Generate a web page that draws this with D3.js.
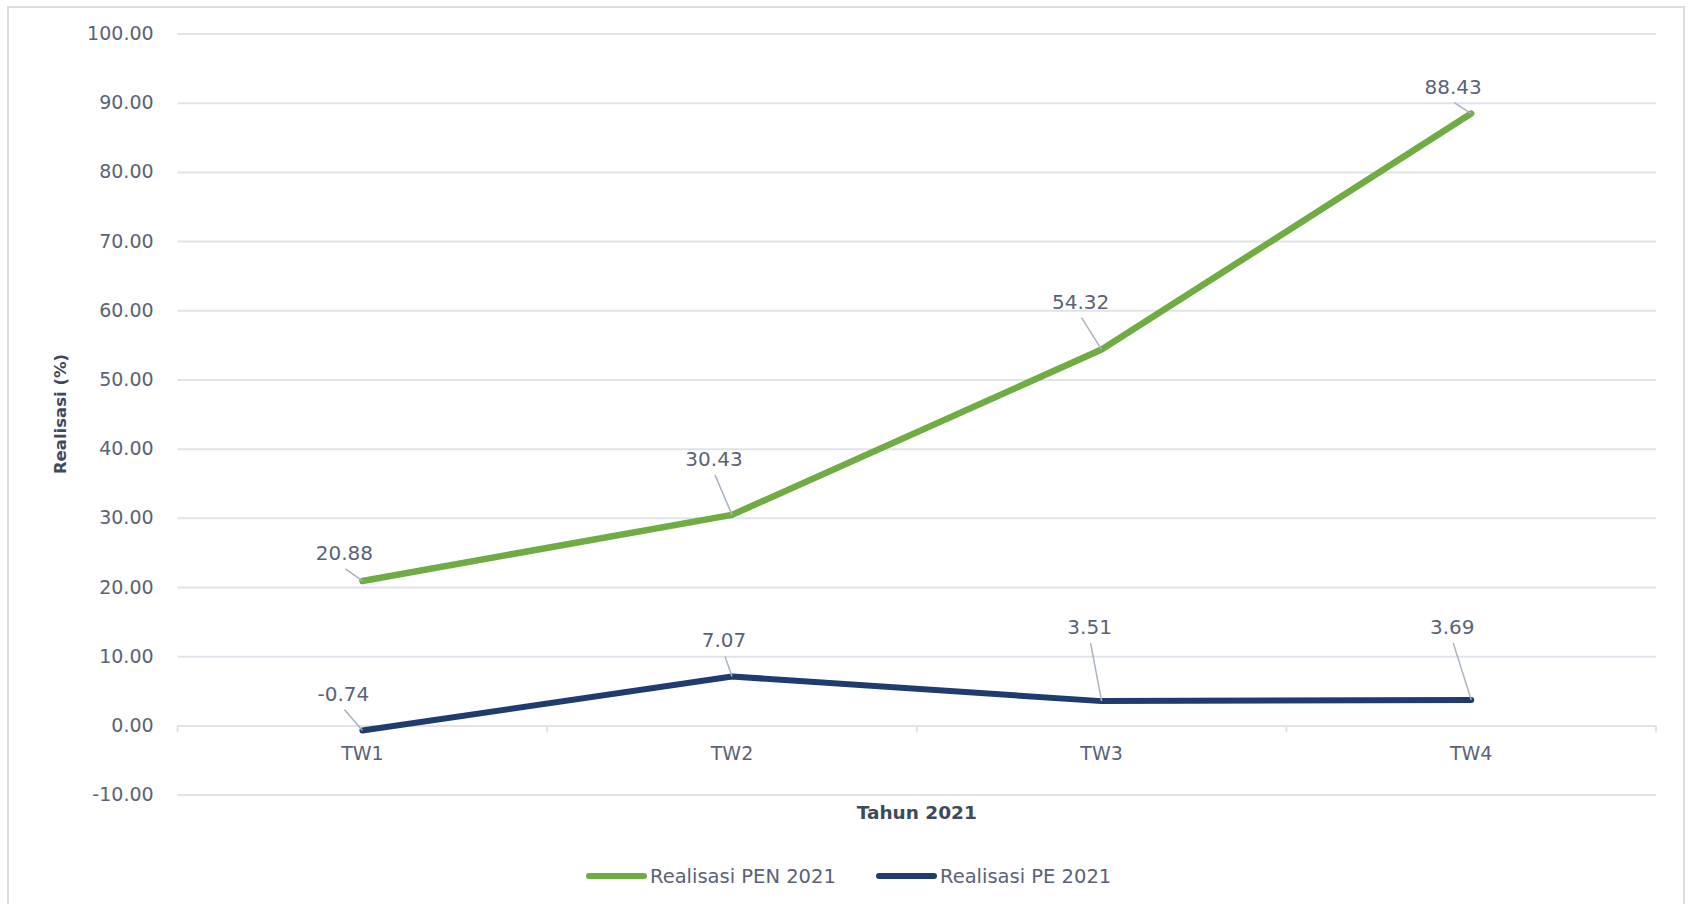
<!DOCTYPE html>
<html>
<head>
<meta charset="utf-8">
<script src="https://cdn.jsdelivr.net/npm/d3@7"></script>
<style>
  html, body { margin: 0; padding: 0; background: #ffffff; }
  svg { display: block; }
  text { font-family: "DejaVu Sans", Verdana, sans-serif; }
</style>
</head>
<body>
<svg id="chart" width="1688" height="904"></svg>
<script>
// Quarterly realisation, 2021 (percent)
const categories = ["TW1", "TW2", "TW3", "TW4"];
const penValues = [20.88, 30.43, 54.32, 88.43];
const peValues = [-0.74, 7.07, 3.51, 3.69];
const yTicks = [-10, 0, 10, 20, 30, 40, 50, 60, 70, 80, 90, 100];
const seriesNames = ["Realisasi PEN 2021", "Realisasi PE 2021"];

// Label placement relative to each point (pixels)
const penLabelOffsets = [[-18, -28], [-18, -56], [-21, -48], [-18, -27]];
const peLabelOffsets = [[-19, -37], [-8, -36], [-12, -74], [-19, -73]];

const colors = { pen: "#6fac44", pe: "#1f3b6f" };
const gridColor = "#dfe3ea";
const textColor = "#5a6376";

// two decimals, plain hyphen for negatives
const fmt = v => v.toFixed(2);

const svg = d3.select("#chart");

// outer frame of the chart area
svg.append("rect")
  .attr("x", 8).attr("y", 7)
  .attr("width", 1676).attr("height", 920)
  .attr("fill", "#ffffff")
  .attr("stroke", "#d8dde5")
  .attr("stroke-width", 2);

const plot = { left: 177.6, right: 1656, top: 33.5, bottom: 794.6 };

const x = d3.scaleBand()
  .domain(categories)
  .range([plot.left, plot.right])
  .padding(0);

const y = d3.scaleLinear()
  .domain([-10, 100])
  .range([plot.bottom, plot.top]);

const cx = c => x(c) + x.bandwidth() / 2;

// gridlines + y tick labels
const yAxis = d3.axisLeft(y)
  .tickValues(yTicks)
  .tickFormat(fmt)
  .tickSize(-(plot.right - plot.left))
  .tickPadding(24);

const gy = svg.append("g")
  .attr("transform", `translate(${plot.left},0)`)
  .call(yAxis);
gy.select(".domain").remove();
gy.selectAll(".tick line")
  .attr("stroke", gridColor)
  .attr("stroke-width", 2);
gy.selectAll(".tick text")
  .attr("fill", textColor)
  .style("font-size", "19px")
  .style("font-family", "DejaVu Sans, Verdana, sans-serif");

// category axis on the zero line, ticks at band boundaries
const boundaries = categories.map(c => x(c)).concat([plot.right]);
svg.append("g")
  .selectAll("line")
  .data(boundaries)
  .join("line")
  .attr("x1", d => d).attr("x2", d => d)
  .attr("y1", y(0)).attr("y2", y(0) + 7)
  .attr("stroke", gridColor)
  .attr("stroke-width", 2);

svg.append("g")
  .selectAll("text")
  .data(categories)
  .join("text")
  .attr("x", d => cx(d))
  .attr("y", 760)
  .attr("text-anchor", "middle")
  .attr("fill", textColor)
  .style("font-size", "19px")
  .text(d => d);

// series lines
const line = d3.line()
  .x((d, i) => cx(categories[i]))
  .y(d => y(d));

svg.append("path")
  .datum(peValues)
  .attr("d", line)
  .attr("fill", "none")
  .attr("stroke", colors.pe)
  .attr("stroke-width", 6)
  .attr("stroke-linejoin", "round")
  .attr("stroke-linecap", "round");

svg.append("path")
  .datum(penValues)
  .attr("d", line)
  .attr("fill", "none")
  .attr("stroke", colors.pen)
  .attr("stroke-width", 6.5)
  .attr("stroke-linejoin", "round")
  .attr("stroke-linecap", "round");

// data labels with leader lines
function drawLabels(values, offsets) {
  const g = svg.append("g");
  values.forEach((v, i) => {
    const px = cx(categories[i]);
    const py = y(v);
    const lx = px + offsets[i][0];
    const ly = py + offsets[i][1];
    g.append("line")
      .attr("x1", lx + 1).attr("y1", ly + 16)
      .attr("x2", px).attr("y2", py)
      .attr("stroke", "#a9b3c2")
      .attr("stroke-width", 1.5);
    g.append("text")
      .attr("x", lx).attr("y", ly)
      .attr("text-anchor", "middle")
      .attr("dominant-baseline", "central")
      .attr("fill", textColor)
      .style("font-size", "20px")
      .text(fmt(v));
  });
}
drawLabels(penValues, penLabelOffsets);
drawLabels(peValues, peLabelOffsets);

// axis titles
svg.append("text")
  .attr("transform", `translate(66,${(plot.top + plot.bottom) / 2}) rotate(-90)`)
  .attr("text-anchor", "middle")
  .attr("fill", "#3e4a5c")
  .style("font-size", "16.5px")
  .style("font-weight", "bold")
  .text("Realisasi (%)");

svg.append("text")
  .attr("x", (plot.left + plot.right) / 2)
  .attr("y", 819)
  .attr("text-anchor", "middle")
  .attr("fill", "#3e4a5c")
  .style("font-size", "18.5px")
  .style("font-weight", "bold")
  .text("Tahun 2021");

// legend
const legendItems = [
  { name: seriesNames[0], color: colors.pen, x: 589 },
  { name: seriesNames[1], color: colors.pe, x: 879 }
];
const lg = svg.append("g");
legendItems.forEach(d => {
  lg.append("line")
    .attr("x1", d.x).attr("x2", d.x + 55)
    .attr("y1", 876).attr("y2", 876)
    .attr("stroke", d.color)
    .attr("stroke-width", 6)
    .attr("stroke-linecap", "round");
  lg.append("text")
    .attr("x", d.x + 61).attr("y", 876)
    .attr("dominant-baseline", "central")
    .attr("fill", textColor)
    .style("font-size", "19.5px")
    .text(d.name);
});
</script>
</body>
</html>
